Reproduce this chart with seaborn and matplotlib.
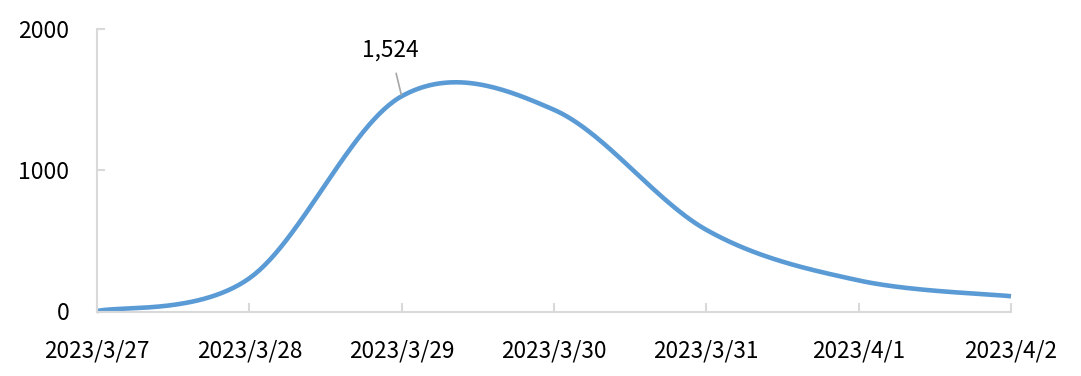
import numpy as np
import pandas as pd
import matplotlib
matplotlib.use("Agg")
import matplotlib.pyplot as plt
import seaborn as sns

# ---- data ----
dates = ["2023/3/27", "2023/3/28", "2023/3/29", "2023/3/30", "2023/3/31", "2023/4/1", "2023/4/2"]
values = [3, 235, 1524, 1428, 578, 220, 108]
y_ticks = [0, 1000, 2000]
label_index = 2  # annotated point

sns.set_theme(style="white")
plt.rcParams['font.family'] = ['Noto Sans CJK SC', 'DejaVu Sans']

fig = plt.figure(figsize=(10.81, 3.76), dpi=100)
ax = fig.add_axes([97/1081, 1 - 311.5/376, (1011 - 97)/1081, (311.5 - 29)/376])

# Excel-style smoothed line (cubic Bezier through the data points)
x = np.arange(len(values), dtype=float)
y = np.array(values, dtype=float)
P = np.column_stack([x, y])
Pext = np.vstack([P[0], P, P[-1]])
xs, ys = [], []
t = np.linspace(0, 1, 60)
for i in range(len(P) - 1):
    p0 = Pext[i + 1]
    p3 = Pext[i + 2]
    c1 = p0 + (Pext[i + 2] - Pext[i]) / 6.0
    c2 = p3 - (Pext[i + 3] - Pext[i + 1]) / 6.0
    seg = ((1 - t)[:, None] ** 3 * p0 + 3 * ((1 - t) ** 2 * t)[:, None] * c1
           + 3 * ((1 - t) * t ** 2)[:, None] * c2 + (t ** 3)[:, None] * p3)
    if i > 0:
        seg = seg[1:]
    xs.extend(seg[:, 0]); ys.extend(seg[:, 1])
curve = pd.DataFrame({"x": xs, "y": ys})

sns.lineplot(data=curve, x="x", y="y", sort=False, estimator=None, ax=ax,
             color="#5b9bd5", linewidth=3.3, clip_on=False, solid_capstyle="butt")

ax.set_xlim(0, len(values) - 1)
ax.set_ylim(0, 2000)
ax.set_xticks(x)
ax.set_xticklabels(dates)
ax.set_yticks(y_ticks)
ax.set_yticklabels([str(v) for v in y_ticks])
ax.set_xlabel("")
ax.set_ylabel("")

for s in ["top", "right"]:
    ax.spines[s].set_visible(False)
for s in ["left", "bottom"]:
    ax.spines[s].set_color("#d9d9d9")
    ax.spines[s].set_linewidth(1.5)

ax.tick_params(axis="x", direction="in", length=6.5, width=1.5, color="#d9d9d9",
               labelsize=16.3, labelcolor="black", pad=20.5, bottom=True)
ax.tick_params(axis="y", direction="in", length=5.5, width=1.5, color="#d9d9d9",
               labelsize=16.5, labelcolor="black", pad=20, left=True)
ax.grid(False)

ax.annotate(f"{values[label_index]:,}", xy=(x[label_index], values[label_index]),
            xytext=(-8, 33), textcoords="offset points", ha="center", va="center",
            fontsize=16.3, color="black",
            arrowprops=dict(arrowstyle="-", color="#a6a6a6", lw=1.2, shrinkA=6, shrinkB=1))

fig.savefig("out.png", dpi=100)
